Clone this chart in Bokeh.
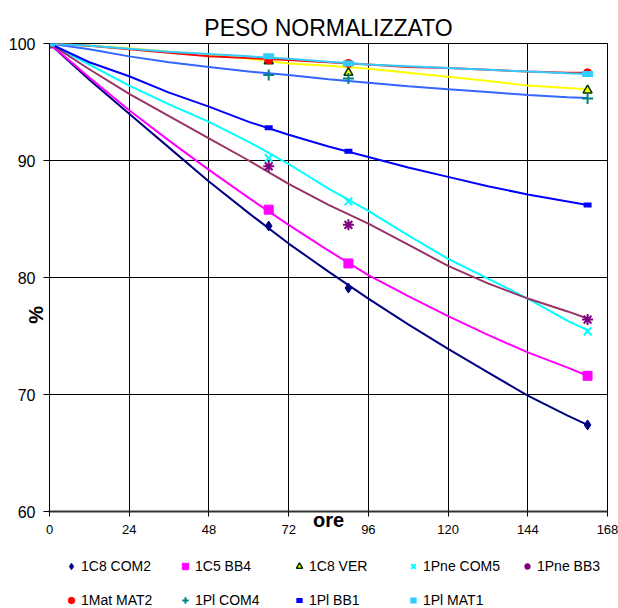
from math import pi
from bokeh.plotting import figure
from bokeh.layouts import column
from bokeh.models import Range1d, FixedTicker, Label, Legend, LegendItem
from bokeh.embed import file_html
from bokeh.resources import INLINE

# ---------------- data ----------------
ore_linea = [0, 12, 24, 36, 48, 60, 72, 84, 96, 108, 120, 132, 144, 156, 162]
ore_punti = [0, 66, 90, 162]

c8_com2_linea = [100, 96.9, 94.0, 91.1, 88.2, 85.5, 82.9, 80.5, 78.2, 76.0, 73.9, 71.9, 69.9, 68.2, 67.4]
c8_com2_punti = [100, 84.4, 79.1, 67.4]

c5_bb4_linea = [100, 97.1, 94.3, 91.7, 89.2, 86.8, 84.5, 82.3, 80.2, 78.4, 76.7, 75.1, 73.6, 72.3, 71.6]
c5_bb4_punti = [100, 85.8, 81.2, 71.6]

c8_ver_linea = [100, 99.8, 99.6, 99.3, 99.05, 98.7, 98.3, 98.1, 97.85, 97.5, 97.15, 96.8, 96.4, 96.2, 96.1]
c8_ver_punti = [100, 98.5, 97.5, 96.0]

pne_com5_linea = [100, 98.2, 96.4, 94.8, 93.3, 91.6, 89.7, 87.6, 85.7, 83.6, 81.6, 79.9, 78.2, 76.3, 75.5]
pne_com5_punti = [100, 90.2, 86.5, 75.4]

pne_bb3_linea = [100, 97.8, 95.7, 93.8, 91.9, 90.0, 88.0, 86.2, 84.6, 82.8, 81.0, 79.5, 78.2, 77.1, 76.5]
pne_bb3_punti = [100, 89.5, 84.5, 76.4]

mat_mat2_linea = [100, 99.8, 99.5, 99.2, 98.9, 98.75, 98.6, 98.4, 98.2, 98.0, 97.9, 97.75, 97.6, 97.5, 97.5]
mat_mat2_punti = [100, 98.6, 98.3, 97.5]

pl_com4_linea = [100, 99.5, 98.9, 98.4, 98.0, 97.6, 97.3, 96.95, 96.65, 96.35, 96.1, 95.85, 95.6, 95.4, 95.35]
pl_com4_punti = [100, 97.3, 97.0, 95.3]

pl_bb1_linea = [100, 98.4, 97.2, 95.8, 94.6, 93.3, 92.2, 91.2, 90.3, 89.4, 88.6, 87.8, 87.1, 86.5, 86.2]
pl_bb1_punti = [100, 92.8, 90.8, 86.2]

pl_mat1_linea = [100, 99.8, 99.55, 99.3, 99.1, 98.9, 98.7, 98.45, 98.2, 98.05, 97.9, 97.75, 97.6, 97.45, 97.4]
pl_mat1_punti = [100, 98.9, 98.3, 97.4]

etichette = ["1C8 COM2", "1C5 BB4", "1C8 VER", "1Pne COM5", "1Pne BB3",
             "1Mat MAT2", "1Pl COM4", "1Pl BB1", "1Pl MAT1"]
x_ticks = [0, 24, 48, 72, 96, 120, 144, 168]
y_ticks = [60, 70, 80, 90, 100]

FONT = "Liberation Sans"

serie = [
    dict(lab=etichette[0], l=c8_com2_linea, m=c8_com2_punti, lc="#000080", mk="diamond", ms=10, fc="#000080", ec="#000080", mw=1),
    dict(lab=etichette[1], l=c5_bb4_linea, m=c5_bb4_punti, lc="#FF00FF", mk="square", ms=9, fc="#FF00FF", ec="#FF00FF", mw=1),
    dict(lab=etichette[2], l=c8_ver_linea, m=c8_ver_punti, lc="#FFFF00", mk="triangle", ms=9, fc="#FFFF00", ec="#003300", mw=1.5),
    dict(lab=etichette[3], l=pne_com5_linea, m=pne_com5_punti, lc="#00FFFF", mk="x", ms=11, fc="#00FFFF", ec="#00FFFF", mw=2),
    dict(lab=etichette[4], l=pne_bb3_linea, m=pne_bb3_punti, lc="#993366", mk="asterisk", ms=11, fc="#800080", ec="#800080", mw=2),
    dict(lab=etichette[5], l=mat_mat2_linea, m=mat_mat2_punti, lc="#FF0000", mk="circle", ms=8, fc="#FF0000", ec="#FF0000", mw=1),
    dict(lab=etichette[6], l=pl_com4_linea, m=pl_com4_punti, lc="#3366FF", mk="cross", ms=11, fc="#008080", ec="#008080", mw=2),
    dict(lab=etichette[7], l=pl_bb1_linea, m=pl_bb1_punti, lc="#0000FF", mk="dash", ms=8, fc="#0000FF", ec="#0000FF", mw=5),
    dict(lab=etichette[8], l=pl_mat1_linea, m=pl_mat1_punti, lc="#33CCFF", mk="dash", ms=11, fc="#33CCFF", ec="#33CCFF", mw=6),
]

# ---------------- main chart ----------------
p = figure(frame_width=558, frame_height=468,
           min_border_left=49, min_border_right=11, min_border_top=43, min_border_bottom=47,
           x_range=Range1d(0, 168), y_range=Range1d(60, 100),
           output_backend="svg", toolbar_location=None,
           title="PESO NORMALIZZATO")

p.title.text_font = FONT
p.title.text_font_size = "23px"
p.title.text_font_style = "normal"
p.title.align = "center"
p.title.text_color = "#000000"
p.title.standoff = 6

p.outline_line_color = "#000000"
p.outline_line_width = 1
p.background_fill_color = "#FFFFFF"
p.border_fill_color = "#FFFFFF"

p.xaxis.ticker = FixedTicker(ticks=x_ticks)
p.yaxis.ticker = FixedTicker(ticks=y_ticks)
p.xgrid.ticker = FixedTicker(ticks=x_ticks)
p.ygrid.ticker = FixedTicker(ticks=y_ticks)
for g in (p.xgrid, p.ygrid):
    g.grid_line_color = "#000000"
    g.grid_line_width = 1
    g.grid_line_alpha = 1

for ax in (p.xaxis, p.yaxis):
    ax.minor_tick_line_color = None
    ax.major_tick_in = 0
    ax.major_label_text_font = FONT
    ax.major_label_text_color = "#000000"
    ax.axis_line_color = "#000000"
    ax.major_tick_line_color = "#000000"

p.yaxis.major_tick_out = 6
p.yaxis.major_label_standoff = 8
p.yaxis.major_label_text_font_size = "16px"
p.xaxis.major_tick_out = 5
p.xaxis.major_label_standoff = 8
p.xaxis.major_label_text_font_size = "13px"
p.xaxis.axis_line_width = 2
p.xaxis.axis_line_color = "#333333"

p.xaxis.axis_label = "ore"
p.xaxis.axis_label_text_font = FONT
p.xaxis.axis_label_text_font_size = "20px"
p.xaxis.axis_label_text_font_style = "bold"
p.xaxis.axis_label_text_color = "#000000"
p.xaxis.axis_label_standoff = -28

for s in serie:
    p.line(ore_linea, s["l"], line_color=s["lc"], line_width=2)

for s in serie:
    p.scatter(ore_punti, s["m"], marker=s["mk"], size=s["ms"],
              fill_color=s["fc"], line_color=s["ec"], line_width=s["mw"])

p.add_layout(Label(x=-4.0, y=76.8, text="%", angle=pi / 2, text_align="center",
                   text_baseline="middle", text_font=FONT, text_font_size="20px",
                   text_font_style="bold", text_color="#000000"), "below")

# ---------------- legend strip ----------------
lf = figure(width=618, height=50, min_border=0, output_backend="svg",
            toolbar_location=None, x_axis_type=None, y_axis_type=None,
            x_range=Range1d(0, 1), y_range=Range1d(0, 1))
lf.outline_line_color = None
lf.xgrid.visible = False
lf.ygrid.visible = False

items = []
for s in serie:
    # one point kept outside the visible range, so only the legend glyph shows
    r = lf.scatter([-10], [-10], marker=s["mk"], size=s["ms"],
                   fill_color=s["fc"], line_color=s["ec"], line_width=s["mw"])
    items.append(LegendItem(label=s["lab"], renderers=[r]))

legenda = Legend(items=items, orientation="horizontal", ncols=5, location=(14, 0),
                 label_width=78, label_height=16, glyph_width=16, glyph_height=16,
                 label_standoff=2, spacing=18, padding=0, margin=0,
                 border_line_color=None, background_fill_alpha=0,
                 label_text_font=FONT, label_text_font_size="14px",
                 label_text_color="#000000")
lf.add_layout(legenda, "center")

layout = column(p, lf, spacing=0)
open("out.html", "w").write(file_html(layout, INLINE))
